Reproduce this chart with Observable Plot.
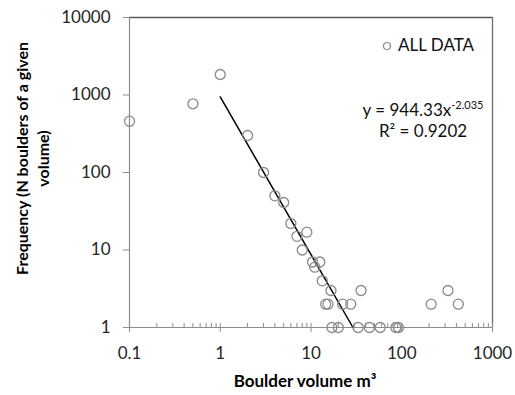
<!DOCTYPE html>
<html><head><meta charset="utf-8">
<script src="https://cdn.jsdelivr.net/npm/d3@7"></script>
<script src="https://cdn.jsdelivr.net/npm/@observablehq/plot@0.6"></script>
<style>
body{margin:0;background:#fff;}
#wrap{position:relative;width:515px;height:395px;font-family:Lato,"Noto Sans",sans-serif;}
.ov{position:absolute;white-space:nowrap;color:#111;}
</style></head><body><div id="wrap"></div>
<script>
// Data
const volume    = [0.1, 0.5, 1.0, 2.0, 3.0, 4.0, 5.0, 6.0, 9.0, 7.0, 8.0, 10.4, 12.5, 11.0, 13.3, 16.6, 14.5, 15.4, 22.3, 27.4, 35.6, 17, 20, 33, 44, 58, 86, 92, 211, 323, 420];
const frequency = [460, 770, 1840, 300, 100, 50, 41, 22, 17, 15, 10, 7, 7, 6, 4, 3, 2, 2, 2, 2, 3, 1, 1, 1, 1, 1, 1, 1, 2, 3, 2];
const trendVolume    = [1, 29];
const trendFrequency = [944.33, 1];
const xDomain = [0.1, 1000];
const yDomain = [1, 10000];
const xTicks = [0.1, 1, 10, 100, 1000];
const xTickLabels = ["0.1", "1", "10", "100", "1000"];
const yTicks = [1, 10, 100, 1000, 10000];
const yTickLabels = ["1", "10", "100", "1000", "10000"];
const xTitle = "Boulder volume m³";
const yTitle = "Frequency (N boulders of a given\nvolume)";
const seriesName = "ALL DATA";
const equationMain = "y = 944.33x";
const equationExp = "-2.035";
const rSquared = "R² = 0.9202";

const points = volume.map((v, i) => ({v, f: frequency[i]}));
const trend = trendVolume.map((v, i) => ({v, f: trendFrequency[i]}));
const xMinor = d3.scaleLog().domain(xDomain).ticks();

const axisGray = "#8c8c8c";
const chart = Plot.plot({
  width: 515, height: 395,
  marginLeft: 129, marginRight: 23, marginTop: 17, marginBottom: 68,
  style: {fontFamily: 'Lato, "Noto Sans", sans-serif', fontSize: "17px", color: "#262626", background: "#fff"},
  x: {type: "log", domain: xDomain},
  y: {type: "log", domain: yDomain},
  marks: [
    Plot.ruleY([yDomain[1]], {stroke: "#595959", strokeWidth: 1.3}),
    Plot.ruleX([xDomain[1]], {stroke: "#6e6e6e", strokeWidth: 1.3}),
    Plot.ruleX([xDomain[0]], {stroke: axisGray, strokeWidth: 1.2}),
    Plot.ruleY([yDomain[0]], {stroke: axisGray, strokeWidth: 1.2}),
    Plot.axisX({ticks: xMinor, tickSize: -4, tickFormat: () => "", label: null, stroke: axisGray}),
    Plot.axisX({ticks: xTicks, tickSize: 5, tickPadding: 14, label: null, stroke: axisGray,
      tickFormat: d => xTickLabels[xTicks.indexOf(d)]}),
    Plot.axisY({ticks: yTicks, tickSize: 6, tickPadding: 13, label: null, stroke: axisGray,
      tickFormat: d => yTickLabels[yTicks.indexOf(d)]}),
    Plot.line(trend, {x: "v", y: "f", stroke: "#000", strokeWidth: 1.5}),
    Plot.dot(points, {x: "v", y: "f", r: 5, stroke: "#8a8a8a", strokeWidth: 1.3, fill: "none"}),
    Plot.text([xTitle], {frameAnchor: "bottom", textAnchor: "middle", dx: -6, dy: 59, lineAnchor: "bottom", fontWeight: "bold", fontSize: 17, fill: "#000"}),
    Plot.text([yTitle], {frameAnchor: "left", textAnchor: "middle", rotate: -90, dx: -98, dy: -14, lineHeight: 1.35, fontWeight: "bold", fontSize: 16, fill: "#000"})
  ]
});
const wrap = document.getElementById("wrap");
wrap.appendChild(chart);

const leg = document.createElement("div");
leg.className = "ov";
leg.style.cssText = "left:381px;top:35px;font-size:17px;line-height:20px;";
leg.innerHTML = '<svg width="13" height="12" style="vertical-align:-1px;margin-right:4px"><circle cx="6" cy="6" r="3.5" fill="none" stroke="#8a8a8a" stroke-width="1.2"/></svg>' + seriesName;
wrap.appendChild(leg);

const eq = document.createElement("div");
eq.className = "ov";
eq.style.cssText = "left:343px;top:99px;width:160px;text-align:center;font-size:17px;line-height:21px;";
eq.innerHTML = equationMain + '<sup style="font-size:11px;vertical-align:7px;line-height:0">' + equationExp + '</sup><br>' + rSquared;
wrap.appendChild(eq);
</script></body></html>
